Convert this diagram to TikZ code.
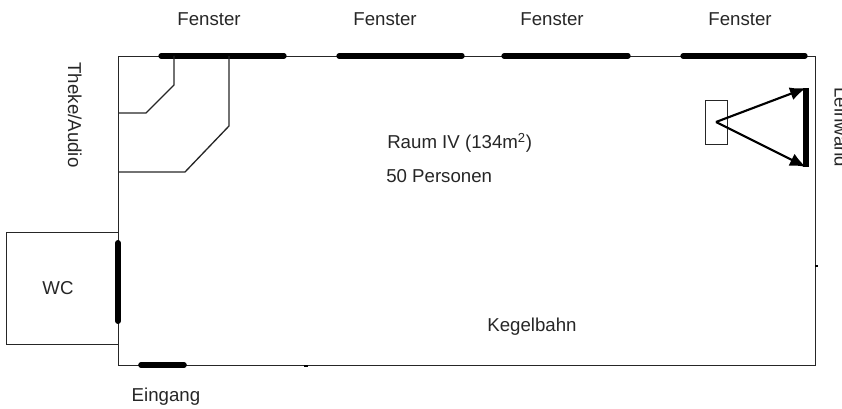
\documentclass[tikz,border=0pt]{standalone}
\usepackage{fontspec}
\setmainfont{Liberation Sans}
\tikzstyle{label} = [inner sep=0pt, font=\fontsize{14pt}{16pt}\selectfont, text=black!85]
\tikzstyle{wall} = [draw=black!85, line width=1pt]
\tikzstyle{thick wall} = [draw=black, line width=4pt, line cap=round]
\tikzstyle{beam} = [draw=black, line width=1.6pt, -{Latex[length=12pt,width=10pt]}]
\usetikzlibrary{arrows.meta}

\begin{document}
\begin{tikzpicture}[x=.75pt, y=-.75pt]
  \useasboundingbox (0,0) rectangle (842,409);

  \coordinate (nw) at (118,56);

  \node (room) [wall, draw, minimum width=522.5pt, minimum height=231.5pt, inner sep=0pt, anchor=north west] at (nw) {};
  \node (wc) [wall, draw, minimum width=84pt, minimum height=84pt, inner sep=0pt, anchor=north west] at (6,232) {};

  % text
  \node (f1) [label, anchor=base] at (209,26) {Fenster};
  \node (f2) [label, anchor=base] at (385,26) {Fenster};
  \node (f3) [label, anchor=base] at (552,26) {Fenster};
  \node (f4) [label, anchor=base] at (740,26) {Fenster};
  \node (theke) [label, rotate=-90, anchor=base] at (68,115) {Theke/Audio};
  \node (leinwand) [label, rotate=-90, anchor=base west] at (834.5,87) {Leinwand};
  \node (raum) [label, anchor=base west] at (387,149) {Raum IV (134m\textsuperscript{2})};
  \node (pers) [label, anchor=base west] at (386,183) {50 Personen};
  \node (kegel) [label, anchor=base] at (532,332) {Kegelbahn};
  \node (wclabel) [label, anchor=base] at (58,295) {WC};
  \node (eingang) [label, anchor=base] at (166,402) {Eingang};

  % fenster und tueren
  \foreach \name/\from/\to in {a/161/284, b/339/462, c/504/628, d/683/805} {
    \coordinate (\name1) at (\from,56);
    \coordinate (\name2) at (\to,56);
    \draw [thick wall] (\name1) -- (\name2);
  }
  \coordinate (d1) at (118,243);
  \coordinate (d2) at (118,321);
  \draw [thick wall, line width=4.5pt] (d1) -- (d2);
  \coordinate (e1) at (141,365);
  \coordinate (e2) at (184,365);
  \draw [thick wall, line width=4.2pt] (e1) -- (e2);

  % theke
  \coordinate (t1) at (174,56);
  \coordinate (t2) at (174,85);
  \coordinate (t3) at (146,113);
  \coordinate (t4) at (118,113);
  \draw [wall] (t1) -- (t2) -- (t3) -- (t4);
  \coordinate (u1) at (229,56);
  \coordinate (u2) at (229,126);
  \coordinate (u3) at (185,172);
  \coordinate (u4) at (118,172);
  \draw [wall] (u1) -- (u2) -- (u3) -- (u4);

  % leinwand und beamer
  \node (beamer) [wall, draw, minimum width=16.5pt, minimum height=33pt, inner sep=0pt, anchor=north west] at (705,100) {};
  \coordinate (b0) at (716,122);
  \coordinate (s1) at (806,88);
  \coordinate (s2) at (806,167);
  \draw [draw=black, line width=4pt] (s1) -- (s2);
  \draw [beam] (b0) -- (s1);
  \draw [beam] (b0) -- (s2);

  % kleine reste
  \coordinate (m1) at (304,366);
  \coordinate (m2) at (308,366);
  \draw [draw=black, line width=1.2pt] (m1) -- (m2);
  \coordinate (r1) at (815,266);
  \coordinate (r2) at (818,266);
  \draw [draw=black, line width=1.2pt] (r1) -- (r2);
\end{tikzpicture}
\end{document}
